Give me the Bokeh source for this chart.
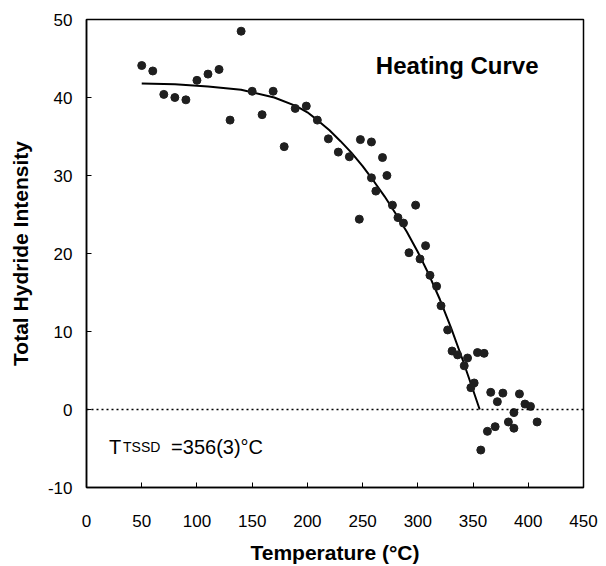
from bokeh.plotting import figure
from bokeh.models import Range1d, FixedTicker, Span, Label
from bokeh.embed import file_html
from bokeh.resources import INLINE

# measured data points (Temperature °C, Total Hydride Intensity)
temp = [50, 60, 70, 80, 90, 100, 110, 120, 130, 140, 150, 159, 169, 179, 189, 199, 209, 219,
        228, 238, 248, 247, 258, 258, 262, 268, 272, 277, 282, 287, 298, 292, 307, 302, 311,
        317, 321, 327, 331, 336, 345, 342, 354, 360, 351, 348, 366, 372, 377, 392, 397, 402,
        387, 382, 387, 370, 363, 408, 357]
intensity = [44.1, 43.4, 40.4, 40.0, 39.7, 42.2, 43.0, 43.6, 37.1, 48.5, 40.8, 37.8, 40.8, 33.7,
             38.6, 38.9, 37.1, 34.7,
             33.0, 32.4, 34.6, 24.4, 34.3, 29.7, 28.0, 32.3, 30.0, 26.2, 24.6, 23.9, 26.2, 20.1,
             21.0, 19.3, 17.2, 15.8, 13.3, 10.2, 7.5, 7.0, 6.6, 5.6, 7.3, 7.2, 3.4, 2.8, 2.2,
             1.0, 2.1, 2.0, 0.7, 0.4, -0.4, -1.6, -2.4, -2.2, -2.8, -1.6, -5.2]

# fitted curve
fit_t = [50, 80, 110, 140, 170, 190, 200, 210, 220, 230, 240, 250, 260, 270, 280, 290, 300,
         310, 320, 330, 340, 350, 356]
fit_i = [41.8, 41.7, 41.4, 41.0, 40.0, 38.9, 38.1, 37.0, 35.8, 34.4, 32.9, 31.2, 29.3, 27.3,
         25.1, 22.8, 20.2, 17.3, 14.1, 10.5, 6.6, 2.5, 0.0]

x_ticks = [0, 50, 100, 150, 200, 250, 300, 350, 400, 450]
y_ticks = [-10, 0, 10, 20, 30, 40, 50]
y_tick_labels = ["-10", "0", "10", "20", "30", "40", "50"]

p = figure(width=606, height=566, x_range=Range1d(0, 450), y_range=Range1d(-10, 50),
           output_backend="svg", toolbar_location=None,
           min_border_left=86, min_border_right=23, min_border_top=19, min_border_bottom=79)
p.grid.visible = False
p.outline_line_color = "black"
p.outline_line_width = 1.5
p.background_fill_color = "white"
p.border_fill_color = "white"

p.xaxis.ticker = FixedTicker(ticks=x_ticks)
p.yaxis.ticker = FixedTicker(ticks=y_ticks)
p.yaxis.major_label_overrides = {t: s for t, s in zip(y_ticks, y_tick_labels)}
for ax in (p.xaxis, p.yaxis):
    ax.major_tick_in = 5
    ax.major_tick_out = 0
    ax.minor_tick_line_color = None
    ax.axis_line_color = "black"
    ax.axis_line_width = 1.5
    ax.major_tick_line_color = "black"
    ax.major_label_text_font = "Liberation Sans"
    ax.major_label_text_font_size = "17px"
    ax.major_label_text_color = "black"
    ax.axis_label_text_font = "Liberation Sans"
    ax.axis_label_text_font_style = "bold"
    ax.axis_label_text_font_size = "21px"
    ax.axis_label_text_color = "black"

p.xaxis.axis_label = "Temperature (°C)"
p.yaxis.axis_label = "Total Hydride Intensity"
p.xaxis.major_label_standoff = 27
p.xaxis.axis_label_standoff = 11
p.yaxis.major_label_standoff = 14
p.yaxis.axis_label_standoff = 13

p.add_layout(Span(location=0, dimension="width", line_color="black",
                  line_width=1.5, line_dash="2 3"))

p.line(fit_t, fit_i, line_width=2, color="black")
p.scatter(temp, intensity, size=8, color="#1f1f1f")

p.add_layout(Label(x=262, y=44.15, text="Heating Curve", text_font="Liberation Sans",
                   text_font_style="bold", text_font_size="24px", text_color="black",
                   text_baseline="alphabetic"))
p.add_layout(Label(x=20.4, y=-4.8, text="T", text_font="Liberation Sans",
                   text_font_size="20px", text_color="black", text_baseline="alphabetic"))
p.add_layout(Label(x=33.1, y=-4.8, text="TSSD", text_font="Liberation Sans",
                   text_font_size="14px", text_color="black", text_baseline="alphabetic"))
p.add_layout(Label(x=76.6, y=-4.8, text="=356(3)°C", text_font="Liberation Sans",
                   text_font_size="20px", text_color="black", text_baseline="alphabetic"))

open("out.html", "w").write(file_html(p, INLINE))
